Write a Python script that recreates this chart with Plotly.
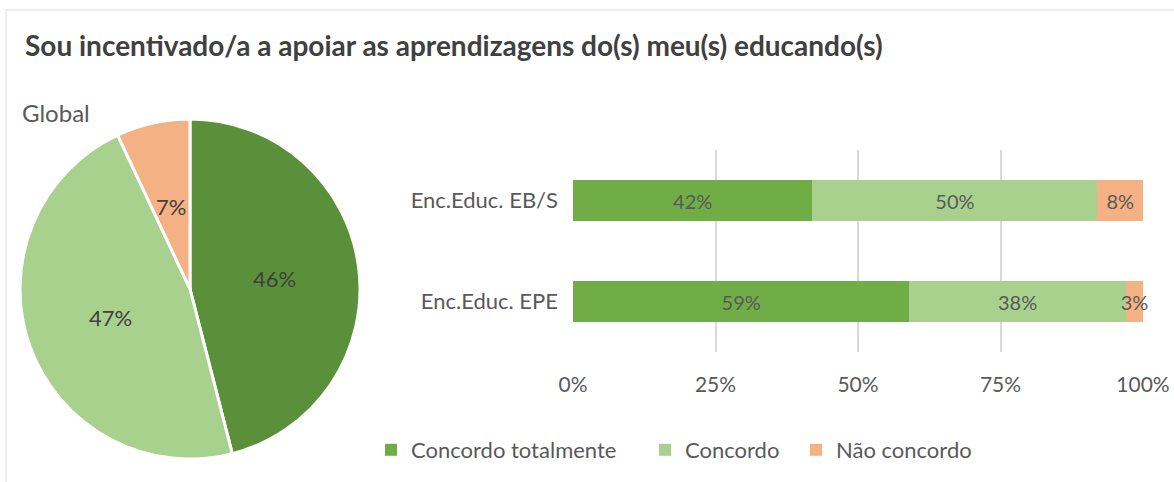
import math
import plotly.graph_objects as go

W, H = 1174, 482

# Data
title_text = "Sou incentivado/a a apoiar as aprendizagens do(s) meu(s) educando(s)"
responses = ["Concordo totalmente", "Concordo", "Não concordo"]
global_values = [46, 47, 7]
groups = ["Enc.Educ. EPE", "Enc.Educ. EB/S"]
concordo_totalmente = [59, 42]
concordo = [38, 50]
nao_concordo = [3, 8]
x_ticks = [0, 25, 50, 75, 100]

pie_colors = ["#5b903a", "#a9d18e", "#f4b183"]
bar_colors = ["#70ad47", "#a9d18e", "#f4b183"]
text_dark = "#404040"
text_grey = "#595959"
FONT = "Lato"


def px_x(x):
    return x / W


def px_y(y):
    return 1 - y / H


# Pie geometry (pixels): square domain, labels sit halfway out along each slice
PIE_L, PIE_R, PIE_T, PIE_B = 20, 360, 119, 459
pie_cx, pie_cy = (PIE_L + PIE_R) / 2, (PIE_T + PIE_B) / 2
pie_r = min(PIE_R - PIE_L, PIE_B - PIE_T) / 2

fig = go.Figure()

fig.add_trace(go.Pie(
    labels=responses,
    values=global_values,
    sort=False,
    direction="clockwise",
    rotation=0,
    marker=dict(colors=pie_colors, line=dict(color="white", width=3)),
    textinfo="none",
    domain=dict(x=[px_x(PIE_L), px_x(PIE_R)], y=[px_y(PIE_B), px_y(PIE_T)]),
    showlegend=False,
    automargin=False,
    hoverinfo="label+percent",
))

# Percentage labels for the pie, placed at the mid-angle of each slice
total = sum(global_values)
annotations = []
cum = 0
for v in global_values:
    mid = (cum + v / 2) / total * 2 * math.pi
    cum += v
    lx = pie_cx + 0.5 * pie_r * math.sin(mid)
    ly = pie_cy - 0.5 * pie_r * math.cos(mid)
    annotations.append(dict(
        text=f"{round(100 * v / total)}%",
        x=px_x(lx), y=px_y(ly), xref="paper", yref="paper",
        xanchor="center", yanchor="middle", showarrow=False,
        font=dict(family=FONT, size=22, color=text_dark),
    ))

annotations.append(dict(
    text="Global",
    x=px_x(20), y=px_y(112),
    xref="paper", yref="paper",
    xanchor="left", yanchor="middle",
    showarrow=False,
    font=dict(family=FONT, size=24, color=text_grey),
))

# Stacked horizontal bars per group, each with its own legend box
series = [concordo_totalmente, concordo, nao_concordo]
legend_ids = ["legend", "legend2", "legend3"]
legend_x = [371, 645, 796]
for name, vals, col, lid in zip(responses, series, bar_colors, legend_ids):
    fig.add_trace(go.Bar(
        y=groups,
        x=vals,
        name=name,
        orientation="h",
        legend=lid,
        marker=dict(color=col, line=dict(width=0)),
        text=[f"{v}%" for v in vals],
        textposition="inside",
        insidetextanchor="middle",
        constraintext="none",
        textangle=0,
        textfont=dict(family=FONT, size=20, color=text_grey),
        cliponaxis=False,
    ))


def legend_box(xpx):
    return dict(
        orientation="h",
        x=px_x(xpx),
        y=px_y(450),
        xanchor="left",
        yanchor="middle",
        font=dict(family=FONT, size=22, color=text_grey),
        itemwidth=30,
        bgcolor="rgba(0,0,0,0)",
    )


fig.update_layout(
    width=W,
    height=H,
    margin=dict(l=0, r=0, t=0, b=0, autoexpand=False),
    paper_bgcolor="white",
    plot_bgcolor="white",
    barmode="stack",
    bargap=0.6,
    font=dict(family=FONT, color=text_grey),
    xaxis=dict(
        domain=[px_x(573), px_x(1143)],
        range=[0, 100],
        tickvals=x_ticks,
        ticktext=[f"{t}%" for t in x_ticks],
        showgrid=True,
        gridcolor="#d9d9d9",
        gridwidth=2,
        zeroline=False,
        showline=False,
        ticks="",
        ticklabelstandoff=18,
        automargin=False,
        tickfont=dict(family=FONT, size=21, color=text_grey),
        fixedrange=True,
    ),
    yaxis=dict(
        domain=[px_y(352), px_y(150)],
        categoryorder="array",
        categoryarray=groups,
        showgrid=False,
        zeroline=False,
        showline=False,
        ticks="",
        ticklabelstandoff=14,
        automargin=False,
        tickfont=dict(family=FONT, size=22, color=text_grey),
        fixedrange=True,
    ),
    legend=legend_box(legend_x[0]),
    legend2=legend_box(legend_x[1]),
    legend3=legend_box(legend_x[2]),
    title=dict(
        text="<b>" + title_text + "</b>",
        x=px_x(25),
        xanchor="left",
        y=px_y(46),
        yanchor="middle",
        font=dict(family=FONT, size=28, color=text_dark),
    ),
    annotations=annotations,
    shapes=[
        dict(
            type="rect", xref="paper", yref="paper",
            x0=px_x(6), x1=1.05, y0=-0.05, y1=px_y(10),
            line=dict(color="#eeeeee", width=2),
            fillcolor="rgba(0,0,0,0)",
            layer="below",
        )
    ],
)

fig.write_html("out.html")
